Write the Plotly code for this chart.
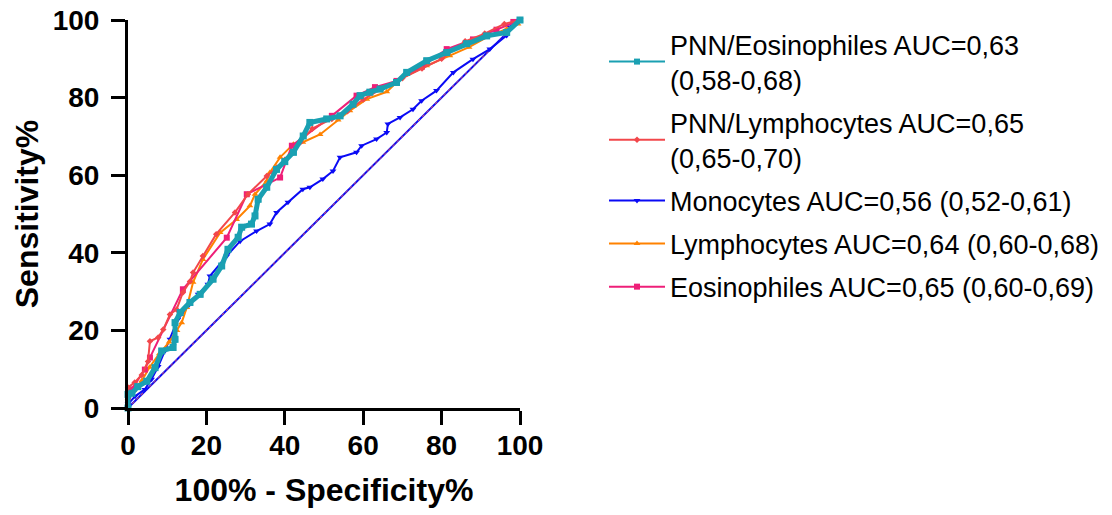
import plotly.graph_objects as go

# ---- data ----
pnn_eos_x = [0, 0, 1.0, 2.5, 4.8, 6.9, 8.6, 11.5, 12.0, 12.0, 13.3, 15.8, 18.4, 21.7, 23.9, 25.5, 28.1, 29.0,
             31.5, 32.4, 33.2, 35.4, 37.9, 40.0, 42.2, 44.7, 46.4, 50.7, 54.1, 57.4, 59.2, 61.7, 64.3, 68.5,
             71.1, 76.2, 81.3, 86.4, 91.5, 96.6, 100]
pnn_eos_y = [0, 3.5, 3.8, 5.5, 6.9, 10.4, 14.7, 15.6, 17.7, 22.0, 24.6, 27.2, 29.3, 33.2, 36.6, 40.9, 44.0, 46.6,
             47.4, 49.5, 53.8, 56.9, 61.5, 63.5, 65.9, 70.1, 73.6, 74.5, 75.3, 78.3, 80.5, 81.4, 82.2, 83.9,
             86.5, 89.5, 91.6, 93.9, 95.9, 96.8, 100]

pnn_lym_x = [0, 0, 1.7, 3.5, 5.1, 5.6, 7.7, 9.0, 10.7, 12.4, 14.0, 15.8, 16.6, 19.1, 22.5, 27.3, 30.6, 35.4,
             38.0, 40.0, 44.0, 47.0, 52.0, 56.0, 60.0, 65.0, 70.0, 75.0, 80.0, 86.0, 91.0, 96.0, 100]
pnn_lym_y = [0, 5.3, 6.6, 8.5, 12.0, 17.2, 18.2, 20.2, 24.1, 25.4, 29.8, 32.6, 34.9, 39.2, 44.8, 50.4, 55.1, 59.8,
             62.0, 64.0, 68.5, 72.0, 74.5, 76.5, 79.5, 82.5, 85.0, 87.5, 90.0, 94.5, 96.5, 99.0, 100]

mono_x = [0, 0, 1.8, 4.3, 6.0, 7.7, 9.4, 10.7, 12.7, 15.3, 17.9, 20.4, 20.9, 25.2, 28.6, 32.8, 36.2, 37.9, 40.8,
          44.6, 46.4, 49.7, 52.3, 54.1, 58.3, 59.6, 63.4, 66.0, 66.3, 69.4, 72.7, 74.9, 78.7, 83.0, 88.0,
          92.3, 96.6, 97.4, 99.1, 100]
mono_y = [0, 1.0, 3.0, 4.8, 7.4, 10.7, 14.7, 17.7, 22.8, 26.2, 29.3, 31.9, 34.0, 39.2, 43.0, 45.6, 47.4, 50.4, 53.0,
          56.4, 56.9, 59.0, 61.1, 64.6, 65.9, 67.6, 69.3, 71.0, 73.2, 74.9, 77.0, 79.2, 81.8, 86.5, 89.9,
          92.5, 96.0, 98.2, 99.8, 100]

lym_x = [0, 0, 1.5, 3.5, 5.5, 8.0, 10.5, 12.5, 13.7, 15.0, 16.6, 19.1, 23.5, 27.7, 31.1, 32.4, 35.4, 36.2, 38.8,
         42.2, 44.6, 49.0, 53.6, 56.6, 60.9, 66.0, 69.4, 76.2, 82.1, 87.0, 91.5, 96.6, 99.5, 100]
lym_y = [0, 2.5, 4.5, 7.0, 10.5, 14.0, 17.0, 20.0, 22.0, 25.9, 32.4, 38.3, 45.2, 48.6, 52.1, 55.1, 58.5, 60.7, 64.6,
         68.0, 68.5, 70.5, 74.2, 76.6, 79.6, 81.5, 84.8, 88.2, 90.8, 93.0, 95.5, 97.7, 99.0, 100]

eos_x = [0, 0, 0.9, 4.3, 5.6, 14.0, 25.2, 30.3, 38.8, 41.8, 52.0, 58.3, 63.0, 68.5, 75.0, 81.3, 88.0, 94.0, 98.3, 100]
eos_y = [0, 3.0, 4.8, 9.9, 13.0, 30.6, 43.9, 55.1, 59.4, 67.6, 75.3, 80.5, 82.7, 84.3, 88.0, 92.5, 95.0, 97.5, 99.5, 100]

ref_x = [0, 100]
ref_y = [0, 100]

names = [
    "PNN/Eosinophiles AUC=0,63<br>(0,58-0,68)",
    "PNN/Lymphocytes AUC=0,65<br>(0,65-0,70)",
    "Monocytes AUC=0,56 (0,52-0,61)",
    "Lymphocytes AUC=0,64 (0,60-0,68)",
    "Eosinophiles AUC=0,65 (0,60-0,69)",
]
tick_vals = [0, 20, 40, 60, 80, 100]

TEAL = "#1AA0B2"
RED = "#F2474B"
BLUE = "#0A0AF5"
ORANGE = "#FF8200"
PINK = "#EE1F78"
FONT = "Arial, Liberation Sans"

fig = go.Figure()

# reference diagonal (blue with red dots on it)
fig.add_trace(go.Scatter(x=ref_x, y=ref_y, mode="lines", line=dict(color=BLUE, width=2),
                         showlegend=False, hoverinfo="skip"))
fig.add_trace(go.Scatter(x=ref_x, y=ref_y, mode="lines", line=dict(color=RED, width=1, dash="dot"),
                         showlegend=False, hoverinfo="skip"))

series = [
    (mono_x, mono_y, names[2], BLUE, "triangle-down", 2, 6, 3),
    (lym_x, lym_y, names[3], ORANGE, "triangle-up", 2, 6, 4),
    (eos_x, eos_y, names[4], PINK, "square", 2, 6, 5),
    (pnn_lym_x, pnn_lym_y, names[1], RED, "diamond", 2, 5, 2),
]
for xs, ys, nm, col, sym, lw, ms, rank in series:
    fig.add_trace(go.Scatter(
        x=xs, y=ys, mode="lines+markers", name=nm, legendrank=rank, legendgroup=nm,
        line=dict(color=col, width=lw),
        marker=dict(color=col, symbol=sym, size=ms),
        cliponaxis=False,
    ))

# teal: thick body (no legend) + thin legend entry
fig.add_trace(go.Scatter(
    x=pnn_eos_x, y=pnn_eos_y, mode="lines+markers", showlegend=False, legendgroup=names[0],
    line=dict(color=TEAL, width=5), marker=dict(color=TEAL, symbol="square", size=7),
    cliponaxis=False, hoverinfo="skip",
))
fig.add_trace(go.Scatter(
    x=pnn_eos_x, y=pnn_eos_y, mode="lines+markers", name=names[0], legendrank=1, legendgroup=names[0],
    line=dict(color=TEAL, width=2), marker=dict(color=TEAL, symbol="square", size=6),
    cliponaxis=False,
))

axis_common = dict(
    range=[0, 100], tickvals=tick_vals, ticktext=[str(v) for v in tick_vals],
    showline=True, linecolor="black", linewidth=3,
    ticks="outside", ticklen=14, tickwidth=3, tickcolor="black",
    showgrid=False, zeroline=False, automargin=False,
    tickfont=dict(family=FONT, size=28, color="black", weight="bold"),
)

fig.update_layout(
    width=1112, height=515,
    margin=dict(l=128, r=592, t=20, b=107, autoexpand=False),
    paper_bgcolor="white", plot_bgcolor="white",
    xaxis=dict(**axis_common, ticklabelstandoff=-4,
               title=dict(text="100% - Specificity%", standoff=20,
                          font=dict(family=FONT, size=32, color="black", weight="bold"))),
    yaxis=dict(**axis_common, ticklabelstandoff=6,
               title=dict(text="Sensitivity%", standoff=5,
                          font=dict(family=FONT, size=32, color="black", weight="bold"))),
    legend=dict(
        xref="container", yref="container",
        x=604 / 1112, xanchor="left", y=1 - 20 / 515, yanchor="top",
        font=dict(family=FONT, size=27, color="black"),
        itemwidth=56, tracegroupgap=5, bgcolor="rgba(0,0,0,0)",
        traceorder="grouped", maxheight=480,
    ),
    showlegend=True,
)

fig.write_html("out.html", config={"displayModeBar": False},
               post_script="document.body.style.margin='0';document.body.style.padding='0';")
